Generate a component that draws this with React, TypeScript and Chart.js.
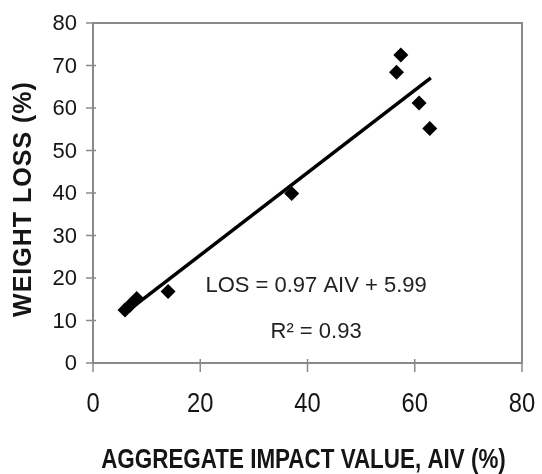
import React, { useEffect, useRef } from "react";
import { Chart, registerables } from "chart.js";

Chart.register(...registerables);

// Aggregate impact value (%) and weight loss (%) per sample
const aivValues = [5.97, 6.9, 8.15, 14.0, 37.05, 56.6, 57.4, 60.8, 62.8];
const lossValues = [12.5, 13.6, 15.2, 16.8, 39.9, 68.4, 72.5, 61.2, 55.2];

// Linear fit: LOS = slope * AIV + intercept
const slope = 0.97;
const intercept = 5.99;
const rSquared = 0.93;
const fitRange = [6, 63];

const xTicks = [0, 20, 40, 60, 80];
const yTicks = [0, 10, 20, 30, 40, 50, 60, 70, 80];

const xTitle = "AGGREGATE IMPACT VALUE, AIV (%)";
const yTitle = "WEIGHT LOSS (%)";
const equationText = `LOS = ${slope} AIV + ${intercept}`;
const r2Text = `R\u00B2 = ${rSquared}`;

const FONT = "'Liberation Sans', Arial, sans-serif";
const AXIS_GREY = "#8a8a8a";
const INK = "#151515";

const frameAndLabels = {
  id: "frameAndLabels",
  afterDraw(chart: any) {
    const { ctx, chartArea } = chart;
    const xs = chart.scales.x;
    const ys = chart.scales.y;
    const { left, right, top, bottom } = chartArea;
    ctx.save();

    // plot frame
    ctx.strokeStyle = AXIS_GREY;
    ctx.lineWidth = 2;
    ctx.strokeRect(left, top, right - left, bottom - top);

    // tick marks crossing the axes
    ctx.lineWidth = 1.5;
    ctx.beginPath();
    xTicks.forEach((v) => {
      const px = xs.getPixelForValue(v);
      ctx.moveTo(px, bottom - 4);
      ctx.lineTo(px, bottom + 9);
    });
    yTicks.forEach((v) => {
      const py = ys.getPixelForValue(v);
      ctx.moveTo(left - 7, py);
      ctx.lineTo(left + 3, py);
    });
    ctx.stroke();

    ctx.fillStyle = INK;

    // y tick labels
    ctx.font = `22px ${FONT}`;
    ctx.textAlign = "right";
    ctx.textBaseline = "middle";
    yTicks.forEach((v) => {
      ctx.fillText(String(v), left - 16, ys.getPixelForValue(v) + 1);
    });

    // x tick labels (slightly condensed)
    ctx.font = `27px ${FONT}`;
    ctx.textAlign = "center";
    xTicks.forEach((v) => {
      const px = xs.getPixelForValue(v);
      ctx.save();
      ctx.translate(px, bottom + 42);
      ctx.scale(0.88, 1);
      ctx.fillText(String(v), 0, 0);
      ctx.restore();
    });

    // x axis title (condensed bold)
    ctx.save();
    ctx.font = `bold 27px ${FONT}`;
    ctx.translate((left + right) / 2 - 4, bottom + 98);
    ctx.scale(0.83, 1);
    ctx.fillText(xTitle, 0, 0);
    ctx.restore();

    // y axis title, rotated
    ctx.save();
    ctx.font = `bold 25px ${FONT}`;
    (ctx as any).letterSpacing = "1px";
    ctx.translate(left - 69, (top + bottom) / 2 + 6);
    ctx.rotate(-Math.PI / 2);
    ctx.fillText(yTitle, 0, 0);
    ctx.restore();

    // regression equation
    ctx.font = `22px ${FONT}`;
    ctx.textAlign = "center";
    ctx.textBaseline = "alphabetic";
    ctx.fillStyle = "#222";
    const cx = xs.getPixelForValue(41.6);
    ctx.fillText(equationText, cx, ys.getPixelForValue(16.7));
    ctx.fillText(r2Text, cx, ys.getPixelForValue(5.9));

    ctx.restore();
  },
};

export default function App() {
  const canvasRef = useRef<HTMLCanvasElement | null>(null);

  useEffect(() => {
    const canvas = canvasRef.current;
    if (!canvas) return;

    const points = aivValues.map((x, i) => ({ x, y: lossValues[i] }));
    const fitLine = fitRange.map((x) => ({ x, y: slope * x + intercept }));

    const chart = new Chart(canvas, {
      type: "scatter",
      data: {
        datasets: [
          {
            label: "Weight loss",
            data: points,
            pointStyle: "rectRot",
            pointRadius: 7.5,
            pointBackgroundColor: "#000",
            pointBorderWidth: 0,
            showLine: false,
          },
          {
            label: "Fit",
            type: "line",
            data: fitLine,
            borderColor: "#000",
            borderWidth: 3.5,
            pointRadius: 0,
            fill: false,
          },
        ],
      },
      options: {
        responsive: false,
        animation: false,
        layout: { padding: { left: 93, top: 23, right: 20, bottom: 111 } },
        plugins: {
          legend: { display: false },
          tooltip: { enabled: false },
        },
        scales: {
          x: {
            type: "linear",
            min: 0,
            max: 80,
            ticks: { display: false, stepSize: 20 },
            grid: { display: false, drawTicks: false },
            border: { display: false },
            afterFit: (s: any) => {
              s.height = 0;
            },
          },
          y: {
            type: "linear",
            min: 0,
            max: 80,
            ticks: { display: false, stepSize: 10 },
            grid: { display: false, drawTicks: false },
            border: { display: false },
            afterFit: (s: any) => {
              s.width = 0;
            },
          },
        },
      },
      plugins: [frameAndLabels],
    });

    return () => chart.destroy();
  }, []);

  return (
    <div style={{ position: "absolute", left: 0, top: 0, width: 542, height: 474, background: "#fff" }}>
      <canvas ref={canvasRef} width={542} height={474} style={{ display: "block" }} />
    </div>
  );
}
